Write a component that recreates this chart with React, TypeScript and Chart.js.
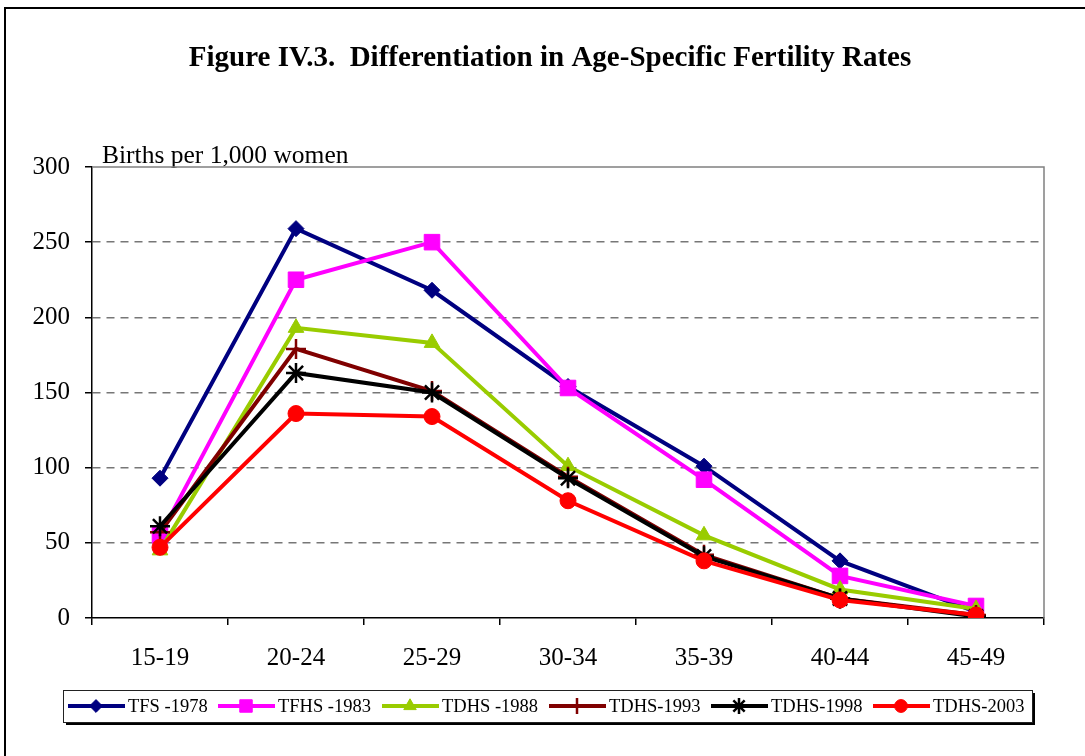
import React, { useEffect, useRef } from 'react';
import { Chart, registerables } from 'chart.js';
import { drawPoint } from 'chart.js/helpers';

Chart.register(...registerables);

const ageGroups = ['15-19', '20-24', '25-29', '30-34', '35-39', '40-44', '45-49'];
const tfs1978 = [93, 259, 218, 154, 101, 38, 4];
const tfhs1983 = [55, 225, 250, 153, 92, 28, 8];
const tdhs1988 = [45, 193, 183, 101, 55, 19, 6];
const tdhs1993 = [57, 179, 151, 94, 42, 13, 2];
const tdhs1998 = [61, 163, 150, 93, 41, 13, 1];
const tdhs2003 = [47, 136, 134, 78, 38, 12, 2];
const seriesNames = ['TFS -1978', 'TFHS -1983', 'TDHS -1988', 'TDHS-1993', 'TDHS-1998', 'TDHS-2003'];
const yTicks = [0, 50, 100, 150, 200, 250, 300];

const title = 'Figure IV.3.  Differentiation in Age-Specific Fertility Rates';
const yCaption = 'Births per 1,000 women';
const SERIF = "'Liberation Serif', 'Times New Roman', serif";

const styles = [
  { color: '#000080', pointStyle: 'rectRot', radius: 8, bw: 1 },
  { color: '#FF00FF', pointStyle: 'rect', radius: 11, bw: 1 },
  { color: '#99CC00', pointStyle: 'triangle', radius: 9, bw: 1 },
  { color: '#800000', pointStyle: 'cross', radius: 10, bw: 2.5 },
  { color: '#000000', pointStyle: 'star', radius: 10, bw: 2.5 },
  { color: '#FF0000', pointStyle: 'circle', radius: 8, bw: 1 },
];

const legendX = [68, 218, 382, 549, 711, 873];

const decorPlugin = {
  id: 'decor',
  beforeDraw(chart: any) {
    const ctx = chart.ctx;
    ctx.save();
    ctx.fillStyle = '#fff';
    ctx.fillRect(0, 0, chart.width, chart.height);
    ctx.strokeStyle = '#000';
    ctx.lineWidth = 2;
    ctx.strokeRect(5, 8, 1200, 1000);
    ctx.fillStyle = '#000';
    ctx.font = `bold 29px ${SERIF}`;
    ctx.textAlign = 'center';
    ctx.textBaseline = 'middle';
    ctx.fillText(title, 550, 59);
    ctx.font = `25.5px ${SERIF}`;
    ctx.textAlign = 'left';
    ctx.textBaseline = 'alphabetic';
    ctx.fillText(yCaption, 102, 163);
    ctx.restore();
  },
  beforeDatasetsDraw(chart: any) {
    const { ctx, chartArea } = chart;
    ctx.save();
    ctx.strokeStyle = '#808080';
    ctx.lineWidth = 1.5;
    ctx.beginPath();
    ctx.moveTo(chartArea.left, chartArea.top);
    ctx.lineTo(chartArea.right, chartArea.top);
    ctx.lineTo(chartArea.right, chartArea.bottom);
    ctx.stroke();
    ctx.restore();
  },
  afterDraw(chart: any) {
    const ctx = chart.ctx;
    ctx.save();
    const bx = 63, by = 690, bw = 969, bh = 32;
    ctx.fillStyle = '#000';
    ctx.fillRect(bx + 3, by + 3, bw, bh);
    ctx.fillStyle = '#fff';
    ctx.fillRect(bx, by, bw, bh);
    ctx.strokeStyle = '#222';
    ctx.lineWidth = 1;
    ctx.strokeRect(bx + 0.5, by + 0.5, bw, bh);
    const cy = by + bh / 2;
    seriesNames.forEach((name, i) => {
      const s = styles[i];
      const x0 = legendX[i];
      ctx.strokeStyle = s.color;
      ctx.lineWidth = 4;
      ctx.beginPath();
      ctx.moveTo(x0, cy);
      ctx.lineTo(x0 + 57, cy);
      ctx.stroke();
      ctx.fillStyle = s.color;
      ctx.strokeStyle = s.color;
      ctx.lineWidth = s.bw;
      drawPoint(ctx, { pointStyle: s.pointStyle, radius: s.radius * 0.8, rotation: 0, borderWidth: s.bw } as any, x0 + 28, cy);
      ctx.fillStyle = '#000';
      ctx.font = `18.5px ${SERIF}`;
      ctx.textAlign = 'left';
      ctx.textBaseline = 'middle';
      ctx.fillText(name, x0 + 60, cy + 1);
    });
    ctx.restore();
  },
};

export default function App() {
  const ref = useRef<HTMLCanvasElement>(null);
  useEffect(() => {
    document.body.style.margin = '0';
    const allData = [tfs1978, tfhs1983, tdhs1988, tdhs1993, tdhs1998, tdhs2003];
    const chart = new Chart(ref.current as HTMLCanvasElement, {
      type: 'line',
      data: {
        labels: ageGroups,
        datasets: allData.map((d, i) => ({
          label: seriesNames[i],
          data: d,
          borderColor: styles[i].color,
          backgroundColor: styles[i].color,
          borderWidth: 4,
          pointStyle: styles[i].pointStyle as any,
          pointRadius: styles[i].radius,
          pointBorderWidth: styles[i].bw,
          pointBackgroundColor: styles[i].color,
          pointBorderColor: styles[i].color,
          tension: 0,
          fill: false,
          order: 6 - i,
        })),
      },
      options: {
        animation: false,
        responsive: false,
        events: [],
        layout: { padding: { top: 167, right: 41, left: 0, bottom: 0 } },
        plugins: {
          legend: { display: false },
          title: { display: false },
          tooltip: { enabled: false },
        },
        scales: {
          x: {
            offset: true,
            grid: { offset: true, drawOnChartArea: false, drawTicks: true, tickLength: 7, tickColor: '#000', lineWidth: 1.5 },
            border: { color: '#000', width: 1.5 },
            ticks: { color: '#000', font: { family: SERIF, size: 25 }, padding: 18, maxRotation: 0 },
            afterFit: (s: any) => { s.height = 138; },
          },
          y: {
            min: 0,
            max: 300,
            afterBuildTicks: (s: any) => { s.ticks = yTicks.map((v) => ({ value: v })); },
            grid: {
              color: (c: any) => (c.tick && (c.tick.value === 0 || c.tick.value === 300) ? 'rgba(0,0,0,0)' : '#777777'),
              lineWidth: 1.5,
              tickBorderDash: [],
              tickColor: '#000',
              tickLength: 7,
            },
            border: { color: '#000', width: 1.5, dash: [8, 6] },
            ticks: { color: '#000', font: { family: SERIF, size: 25 }, padding: 15 },
            afterFit: (s: any) => { s.width = 92; },
          },
        },
      },
      plugins: [decorPlugin],
    });
    return () => chart.destroy();
  }, []);
  return <canvas ref={ref} width={1085} height={756} style={{ display: 'block', width: 1085, height: 756 }} />;
}
